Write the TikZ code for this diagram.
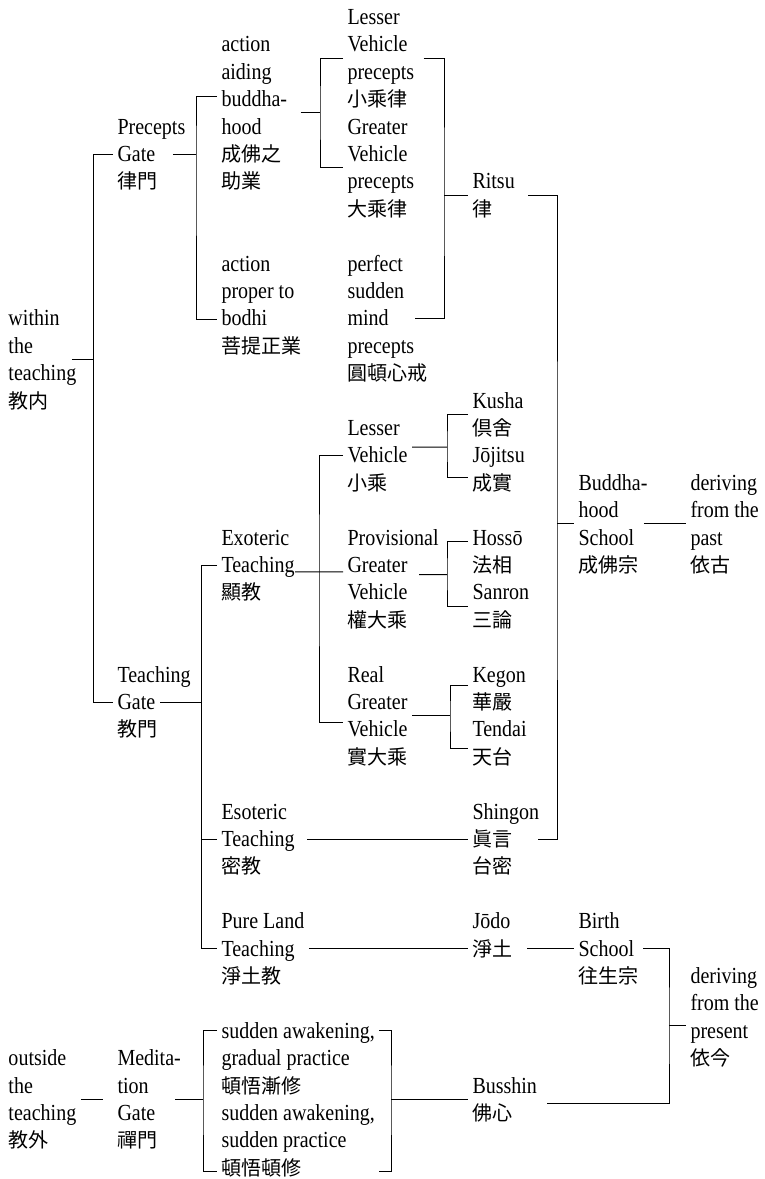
\documentclass[tikz,border=0pt]{standalone}
\usepackage{fontspec}
\setmainfont{Liberation Serif}[FakeStretch=0.87]
\newfontfamily\jp{Noto Sans CJK JP}[Scale=0.87]
\usetikzlibrary{calc}
\newcommand\topst{\rule{0pt}{18.5pt}}
\newcommand\botst{\rule[-3.5pt]{0pt}{3.5pt}}

\begin{document}
\begin{tikzpicture}[x=1pt, y=-27.4pt, line width=1pt,
  lbl/.style={anchor=west, align=left, inner xsep=4pt, inner ysep=0pt, font=\fontsize{23}{27.4}\selectfont}]
\useasboundingbox (0,-0.6204) rectangle (765,42.4088);
\node[lbl] (within) at (4,12.5) {\topst within\\the\\teaching\\\botst{\jp 教内}};
\node[lbl] (outside) at (4,39.5) {\topst outside\\the\\teaching\\\botst{\jp 教外}};
\node[lbl] (precgate) at (113,5) {\topst Precepts\\Gate\\\botst{\jp 律門}};
\node[lbl] (teachgate) at (113,25) {\topst Teaching\\Gate\\\botst{\jp 教門}};
\node[lbl] (medgate) at (113,39.5) {\topst Medita-\\tion\\Gate\\\botst{\jp 禪門}};
\node[lbl] (aiding) at (217,3.5) {\topst action\\aiding\\buddha-\\hood\\{\jp 成佛之}\\\botst{\jp 助業}};
\node[lbl] (proper) at (217,10.5) {\topst action\\proper to\\bodhi\\\botst{\jp 菩提正業}};
\node[lbl] (exoteric) at (217,20) {\topst Exoteric\\Teaching\\\botst{\jp 顯教}};
\node[lbl] (esoteric) at (217,30) {\topst Esoteric\\Teaching\\\botst{\jp 密教}};
\node[lbl] (pureland) at (217,34) {\topst Pure Land\\Teaching\\\botst{\jp 淨土教}};
\node[lbl] (gradual) at (217,38) {\topst sudden awakening,\\gradual practice\\\botst{\jp 頓悟漸修}};
\node[lbl] (suddenpr) at (217,41) {\topst sudden awakening,\\sudden practice\\\botst{\jp 頓悟頓修}};
\node[lbl] (lesserpr) at (343,1.5) {\topst Lesser\\Vehicle\\precepts\\\botst{\jp 小乘律}};
\node[lbl] (greaterpr) at (343,5.5) {\topst Greater\\Vehicle\\precepts\\\botst{\jp 大乘律}};
\node[lbl] (perfect) at (343,11) {\topst perfect\\sudden\\mind\\precepts\\\botst{\jp 圓頓心戒}};
\node[lbl] (lesser) at (343,16) {\topst Lesser\\Vehicle\\\botst{\jp 小乘}};
\node[lbl] (provisional) at (343,20.5) {\topst Provisional\\Greater\\Vehicle\\\botst{\jp 權大乘}};
\node[lbl] (real) at (343,25.5) {\topst Real\\Greater\\Vehicle\\\botst{\jp 實大乘}};
\node[lbl] (ritsu) at (468,6.5) {\topst Ritsu\\\botst{\jp 律}};
\node[lbl] (kusha) at (468,14.5) {\topst Kusha\\\botst{\jp 倶舍}};
\node[lbl] (jojitsu) at (468,16.5) {\topst Jōjitsu\\\botst{\jp 成實}};
\node[lbl] (hosso) at (468,19.5) {\topst Hossō\\\botst{\jp 法相}};
\node[lbl] (sanron) at (468,21.5) {\topst Sanron\\\botst{\jp 三論}};
\node[lbl] (kegon) at (468,24.5) {\topst Kegon\\\botst{\jp 華嚴}};
\node[lbl] (tendai) at (468,26.5) {\topst Tendai\\\botst{\jp 天台}};
\node[lbl] (shingon) at (468,30) {\topst Shingon\\{\jp 眞言}\\\botst{\jp 台密}};
\node[lbl] (jodo) at (468,33.5) {\topst Jōdo\\\botst{\jp 淨土}};
\node[lbl] (busshin) at (468,39.5) {\topst Busshin\\\botst{\jp 佛心}};
\node[lbl] (buddhahood) at (574,18.5) {\topst Buddha-\\hood\\School\\\botst{\jp 成佛宗}};
\node[lbl] (birth) at (574,34) {\topst Birth\\School\\\botst{\jp 往生宗}};
\node[lbl] (past) at (686,18.5) {\topst deriving\\from the\\past\\\botst{\jp 依古}};
\node[lbl] (present) at (686,36.5) {\topst deriving\\from the\\present\\\botst{\jp 依今}};
\coordinate (sp0) at (93.5,12.5);
\coordinate (sp1) at (196,5);
\coordinate (sp2) at (320,3.5);
\coordinate (sp3) at (444,6.5);
\coordinate (sp4) at (557,18.5);
\coordinate (sp5) at (201.5,25);
\coordinate (sp6) at (319,20.25);
\coordinate (sp7) at (447,15.7);
\coordinate (sp8) at (447,20.35);
\coordinate (sp9) at (450,25.5);
\coordinate (sp10) at (669,36.8);
\coordinate (sp11) at (391,39.5);
\coordinate (sp12) at (203,39.5);
\draw ([xshift=-9pt]within.east) -- (sp0);
\draw (precgate.west) -| (sp0) |- (teachgate.west);
\draw ([xshift=-17pt]precgate.east) -- (sp1);
\draw ($(aiding.west)+(0,-0.6)$) -| (sp1) |- ($(proper.west)+(0,0.55)$);
\draw ([xshift=9pt]aiding.east) -- (sp2);
\draw (lesserpr.west) -| (sp2) |- (greaterpr.west);
\draw ([xshift=5pt]lesserpr.east) -| (sp3) |- ([xshift=-17pt]perfect.east);
\draw (sp3) -- (ritsu.west);
\draw ([xshift=9pt]ritsu.east) -| (sp4) |- ([xshift=-6pt]shingon.east);
\draw (sp4) -- (buddhahood.west);
\draw ([xshift=-8pt]buddhahood.east) -- (past.west);
\draw ([xshift=-35pt]teachgate.east) -- (sp5);
\draw (exoteric.west) -| (sp5) |- (pureland.west);
\draw (esoteric.west) -- (esoteric.west -| sp5);
\draw ($(exoteric.east)+(-4,0.25)$) -- ($(provisional.west)+(0,-0.25)$);
\draw (lesser.west) -| (sp6) |- ($(real.west)+(0,0.25)$);
\draw ($(lesser.east)+(0,-0.3)$) -- (sp7);
\draw (kusha.west) -| (sp7) |- ($(jojitsu.west)+(0,0.3)$);
\draw ($(provisional.east)+(-24,-0.15)$) -- (sp8);
\draw ($(hosso.west)+(0,-0.35)$) -| (sp8) |- (sanron.west);
\draw (real.east) -- (sp9);
\draw ($(kegon.west)+(0,-0.1)$) -| (sp9) |- ($(tendai.west)+(0,0.2)$);
\draw ([xshift=8pt]esoteric.east) -- (shingon.west);
\draw (pureland.east) -- (pureland.east -| jodo.west);
\draw ($(jodo.east)+(10,0.5)$) -- (birth.west);
\draw (birth.east) -| (sp10) |- ($(busshin.east)+(6,0.15)$);
\draw (sp10) -- (sp10 -| present.west);
\draw ($(gradual.east)+(0,-1)$) -| (sp11) |- ($(suddenpr.east)+(0,1.15)$);
\draw (sp11) -- (busshin.west);
\draw ([xshift=-10pt]medgate.east) -- (sp12);
\draw ($(gradual.west)+(0,-1)$) -| (sp12) |- ($(suddenpr.west)+(0,1.15)$);
\draw[shorten >=10pt] (outside.east) -- (medgate.west);
\end{tikzpicture}
\end{document}
